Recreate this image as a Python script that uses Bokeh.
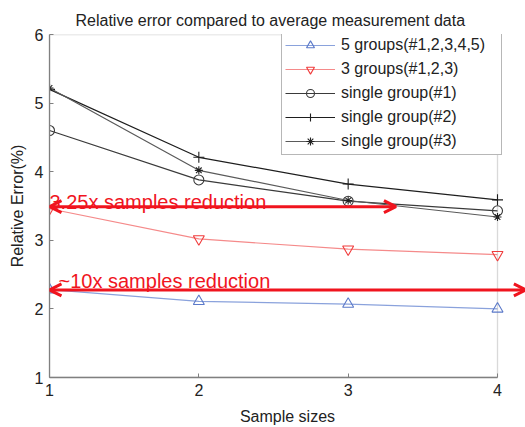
from bokeh.plotting import figure
from bokeh.models import Range1d, FixedTicker, Arrow, OpenHead, Label, BoxAnnotation
from bokeh.embed import file_html
from bokeh.resources import INLINE

sample_sizes = [1, 2, 3, 4]
five_groups = [2.28, 2.11, 2.07, 2.00]
three_groups = [3.46, 3.02, 2.87, 2.79]
single_1 = [4.60, 3.88, 3.57, 3.43]
single_2 = [5.20, 4.21, 3.82, 3.59]
single_3 = [5.22, 4.02, 3.58, 3.34]

x_ticks = [1, 2, 3, 4]
y_ticks = [1, 2, 3, 4, 5, 6]
x_limits = (1, 4)
y_limits = (1, 6)
x_view_end = 4.1875  # plotting area extends past x=4 so the arrow can run to the edge

arrow1 = dict(x0=1.0, x1=3.32, y=3.49)
arrow2 = dict(x0=1.0, x1=4.19, y=2.276)
label1 = dict(text="3.25x samples reduction", x=1.0, y=3.56)
label2 = dict(text="~10x samples reduction", x=1.0, y=2.40)

FONT = "Liberation Sans"
RED = "#f0141e"
GRAY = "#808080"

p = figure(width=525, height=427, output_backend="svg", toolbar_location=None,
           x_range=Range1d(x_limits[0], x_view_end), y_range=Range1d(*y_limits),
           min_border_left=49, min_border_right=0, min_border_top=34, min_border_bottom=47,
           title="Relative error compared to average measurement data")
p.title.align = "left"
p.title.offset = 26
p.title.text_font = FONT
p.title.text_font_size = "16px"
p.title.text_font_style = "normal"
p.title.text_color = "#222222"
p.title.standoff = 12

p.xgrid.visible = False
p.ygrid.visible = False
p.outline_line_color = None
p.background_fill_color = "white"
p.border_fill_color = "white"

bottom_axis = p.below[0]
left_axis = p.left[0]

for ax in (bottom_axis, left_axis):
    ax.major_label_text_font = FONT
    ax.major_label_text_font_size = "16px"
    ax.major_label_text_color = "#222222"
    ax.axis_label_text_font = FONT
    ax.axis_label_text_font_size = "16px"
    ax.axis_label_text_font_style = "normal"
    ax.axis_label_text_color = "#222222"
    ax.axis_line_color = GRAY
    ax.axis_line_width = 1.3
    ax.major_tick_in = 4
    ax.major_tick_out = 0
    ax.major_tick_line_color = GRAY
    ax.minor_tick_line_color = None

bottom_axis.ticker = FixedTicker(ticks=x_ticks)
bottom_axis.bounds = x_limits
left_axis.ticker = FixedTicker(ticks=y_ticks)
bottom_axis.axis_label = "Sample sizes"
left_axis.axis_label = "Relative Error(%)"
bottom_axis.major_label_standoff = 6
bottom_axis.axis_label_standoff = 9
left_axis.major_label_standoff = 6
left_axis.axis_label_standoff = 6

# plot box from x=1..4, y=1..6
p.add_layout(BoxAnnotation(left=x_limits[0], right=x_limits[1],
                           bottom=y_limits[0], top=y_limits[1],
                           fill_color=None, line_color=GRAY, line_width=1.3, level="underlay"))

series = [
    (five_groups, "5 groups(#1,2,3,4,5)", "#8aa2dc", "#5b79c9", "triangle", 11),
    (three_groups, "3 groups(#1,2,3)", "#f58a8a", "#f03c3c", "inverted_triangle", 11),
    (single_1, "single group(#1)", "#3a3a3a", "#3a3a3a", "circle", 10),
    (single_2, "single group(#2)", "#1e1e1e", "#1e1e1e", "cross", 11),
    (single_3, "single group(#3)", "#5a5a5a", "#222222", "asterisk", 8),
]
for ys, name, lc, mc, mk, sz in series:
    p.line(sample_sizes, ys, line_color=lc, line_width=1.2, legend_label=name)
    p.scatter(sample_sizes, ys, marker=mk, size=sz, line_color=mc, fill_color=None,
              line_width=1.1, legend_label=name)

p.legend.location = (232, 222)
p.legend.margin = 0
p.legend.padding = 3
p.legend.spacing = 4
p.legend.glyph_width = 50
p.legend.glyph_height = 20
p.legend.label_height = 20
p.legend.label_width = 157
p.legend.label_standoff = 6
p.legend.label_text_font = FONT
p.legend.label_text_font_size = "16px"
p.legend.label_text_color = "#222222"
p.legend.border_line_color = "#707070"
p.legend.border_line_width = 1.3
p.legend.background_fill_alpha = 1.0

for a in (arrow1, arrow2):
    p.add_layout(Arrow(x_start=a["x0"], y_start=a["y"], x_end=a["x1"], y_end=a["y"],
                       line_color=RED, line_width=3,
                       start=OpenHead(size=12, line_color=RED, line_width=3),
                       end=OpenHead(size=12, line_color=RED, line_width=3)))

p.add_layout(Label(x=label1["x"], y=label1["y"], text=label1["text"], text_color=RED,
                   text_font=FONT, text_font_size="20px", text_baseline="alphabetic"))
p.add_layout(Label(x=label2["x"], y=label2["y"], text=label2["text"], text_color=RED,
                   text_font=FONT, text_font_size="20px", text_baseline="alphabetic",
                   x_offset=9))

open("out.html", "w").write(file_html(p, INLINE))
